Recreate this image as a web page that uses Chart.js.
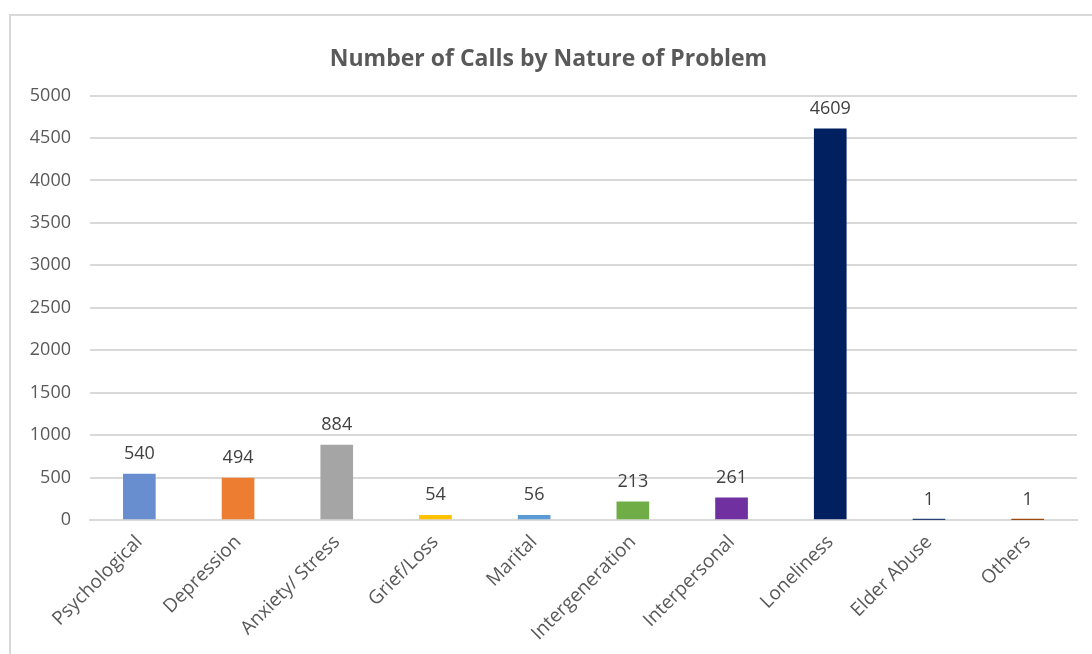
<!DOCTYPE html>
<html>
<head>
<meta charset="utf-8">
<script src="https://cdn.jsdelivr.net/npm/chart.js@4.4.1/dist/chart.umd.min.js"></script>
<style>
  html, body { margin: 0; padding: 0; background: #fff; }
  #wrap { position: relative; width: 1092px; height: 654px; overflow: hidden; }
  #frame { position: absolute; left: 9px; top: 14px; width: 1200px; height: 800px;
           border: 2px solid #d9d9d9; box-sizing: border-box; }
  #myChart { position: absolute; left: 0; top: 0; }
</style>
</head>
<body>
<div id="wrap">
  <div id="frame"></div>
  <canvas id="myChart" width="1092" height="654"></canvas>
</div>
<script>
const categories = ['Psychological', 'Depression', 'Anxiety/ Stress', 'Grief/Loss', 'Marital',
                    'Intergeneration', 'Interpersonal', 'Loneliness', 'Elder Abuse', 'Others'];
const calls = [540, 494, 884, 54, 56, 213, 261, 4609, 1, 1];
const barColors = ['#698ED0', '#ED7D31', '#A5A5A5', '#FFC000', '#5B9BD5',
                   '#70AD47', '#7030A0', '#002060', '#264478', '#9E480E'];
const yTicks = [0, 500, 1000, 1500, 2000, 2500, 3000, 3500, 4000, 4500, 5000];

const fontFamily = "'Open Sans', sans-serif";

// value labels above each bar
const valueLabels = {
  id: 'valueLabels',
  afterDatasetsDraw(chart) {
    const c = chart.ctx;
    const meta = chart.getDatasetMeta(0);
    c.save();
    c.font = '18px ' + fontFamily;
    c.fillStyle = '#404040';
    c.textAlign = 'center';
    c.textBaseline = 'alphabetic';
    meta.data.forEach((bar, i) => {
      c.fillText(String(calls[i]), bar.x, bar.y - 15);
    });
    c.restore();
  }
};

const ctx = document.getElementById('myChart').getContext('2d');

var myChart = new Chart(ctx, {
  type: 'bar',
  data: {
    labels: categories,
    datasets: [{
      label: 'Calls',
      data: calls,
      backgroundColor: barColors,
      borderWidth: 0,
      barThickness: 32
    }]
  },
  options: {
    responsive: false,
    animation: false,
    layout: { padding: { left: 20, right: 15, top: 0, bottom: 0 } },
    plugins: {
      legend: { display: false },
      tooltip: { enabled: false },
      title: {
        display: true,
        text: 'Number of Calls by Nature of Problem',
        color: '#595959',
        font: { family: fontFamily, size: 23, weight: 'bold' },
        padding: { top: 46, bottom: 22 }
      }
    },
    scales: {
      x: {
        grid: { display: false, drawTicks: false },
        border: { display: true, color: '#d9d9d9', width: 2 },
        ticks: {
          color: '#595959',
          font: { family: fontFamily, size: 19 },
          minRotation: 45,
          maxRotation: 45,
          autoSkip: false,
          padding: 11
        },
        afterFit(scale) { scale.height = 134; }
      },
      y: {
        min: 0,
        max: 5000,
        afterBuildTicks(scale) { scale.ticks = yTicks.map(v => ({ value: v })); },
        grid: { color: '#d9d9d9', lineWidth: 2, drawTicks: false },
        border: { display: false },
        ticks: {
          color: '#595959',
          font: { family: fontFamily, size: 18 },
          padding: 19,
          callback: (v) => String(v)
        },
        afterFit(scale) { scale.width = 70; }
      }
    }
  },
  plugins: [valueLabels]
});
</script>
</body>
</html>
